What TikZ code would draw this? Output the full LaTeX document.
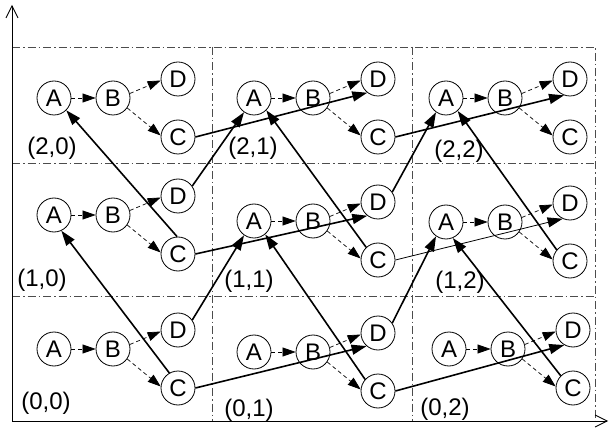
\documentclass[tikz,border=0pt]{standalone}
\usepackage{fontspec}
\setmainfont{Liberation Sans}
\usetikzlibrary{arrows.meta}
\tikzset{
  vrch/.style={circle,draw,line width=0.8pt,minimum size=34pt,inner sep=0pt,font=\fontsize{24}{24}\selectfont},
  popis/.style={inner sep=0pt,font=\fontsize{24}{24}\selectfont},
  sip/.style={-{Triangle[length=15pt,width=10pt]},line width=1.6pt},
  sipt/.style={-{Triangle[length=15pt,width=10pt]},line width=0.8pt},
  sipc/.style={-{Triangle[length=13pt,width=9pt]},line width=0.7pt,dash pattern=on 4pt off 3pt},
  mriz/.style={line width=0.8pt,black!70,dash pattern=on 8pt off 3pt on 1.5pt off 3pt},
  osa/.style={-{Straight Barb[length=12pt,width=12pt]},line width=0.8pt},
}
\begin{document}
\begin{tikzpicture}[x=1pt,y=-1pt]
  \useasboundingbox (0,0) rectangle (610,430);
  % mrizka
  \draw[mriz] (12,47) -- (595,47) -- (595,421);
  \draw[mriz] (12,163) -- (595,163); \draw[mriz] (12,296) -- (595,296);
  \draw[mriz] (212,47) -- (212,421); \draw[mriz] (412,47) -- (412,421);
  % osy
  \draw[osa] (12,421) -- (12,5);
  \draw[osa] (12,421) -- (608,421);
  % bunky (radek,sloupec)
  \foreach \r/\s/\x/\y/\lx/\ly in {0/0/54/349/46/403, 0/1/254/352/249/410, 0/2/449/349/445/409,
      1/0/54/215/42/280, 1/1/254/221/249/281, 1/2/446/222/460/282,
      2/0/54/98/52/148, 2/1/254/98/253/148, 2/2/446/98/459/151} {
    \node[vrch] (A\r\s) at (\x,\y) {A};
    \node[vrch] (B\r\s) at (\x+59,\y) {B};
    \node[vrch] (D\r\s) at (\x+124,\y-19) {D};
    \node[vrch] (C\r\s) at (\x+124,\y+39) {C};
    \node[popis] (L\r\s) at (\lx,\ly) {(\r,\s)};
    \draw[sipc] (A\r\s) -- (B\r\s);
    \draw[sipc] (B\r\s.15) -- (D\r\s.185);
    \draw[sipc] (B\r\s.-35) -- (C\r\s.175);
  }
  % prechody mezi bunkami
  \draw[sip] (C00.east) -- (D01.229); \draw[sip] (C01.east) -- (D02.240);
  \draw[sip] (C10.east) -- (D11.232); \draw[sipt] (C11.east) -- (D12.245);
  \draw[sip] (C20.east) -- (D21.232); \draw[sip] (C21.east) -- (D22.250);
  \draw[sip] (D00.35) -- (A11.235); \draw[sip] (D01.35) -- (A12.235);
  \draw[sip] (D10.35) -- (A21.235); \draw[sip] (D11.35) -- (A22.235);
  \draw[sip] (C00.120) -- (A10.295); \draw[sip] (C01.138) -- (A11.310);
  \draw[sip] (C02.135) -- (A12.293);
  \draw[sip] (C10.93) -- (A20.315); \draw[sip] (C11.133) -- (A21.315);
  \draw[sip] (C12.140) -- (A22.312);
\end{tikzpicture}
\end{document}
